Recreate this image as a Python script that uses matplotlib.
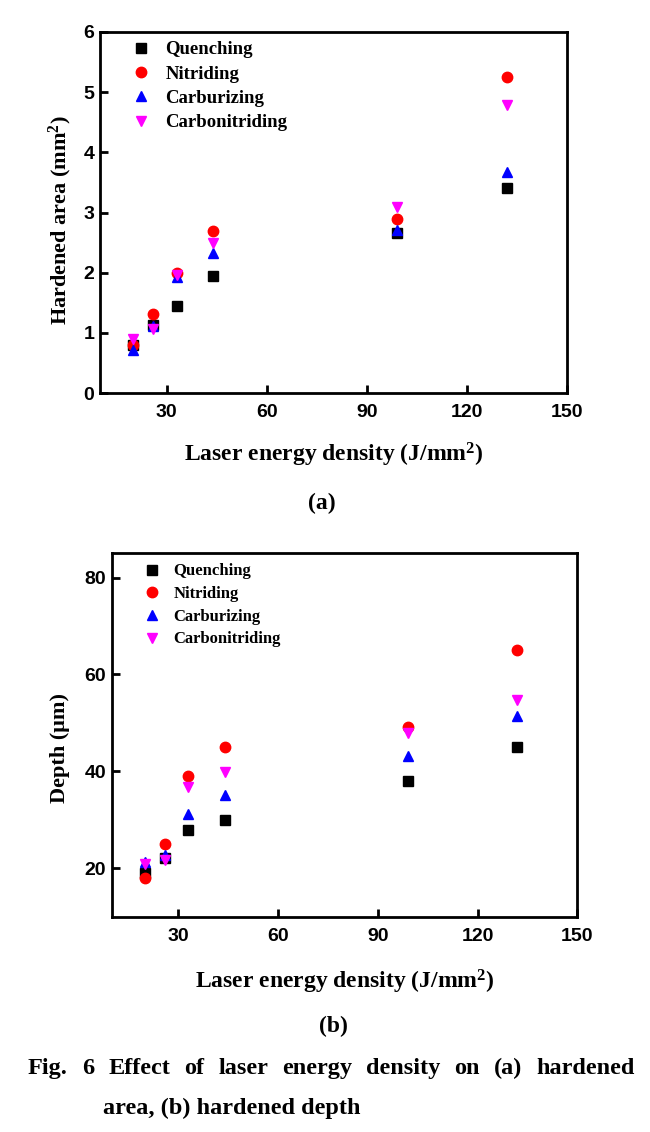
import numpy as np
import matplotlib.pyplot as plt

plt.rcParams['font.family'] = 'Liberation Serif'
plt.rcParams['font.weight'] = 'bold'
plt.rcParams['mathtext.default'] = 'regular'

# laser energy density (J/mm2)
energy = [20, 26, 33, 44, 99, 132]

# hardened area (mm2)
area_quench = [0.80, 1.13, 1.45, 1.95, 2.66, 3.40]
area_nitr = [0.80, 1.32, 2.00, 2.70, 2.89, 5.26]
area_carb = [0.71, 1.11, 1.92, 2.32, 2.71, 3.67]
area_cn = [0.89, 1.07, 1.96, 2.50, 3.09, 4.79]

# hardened depth (um)
depth_quench = [19.1, 22.1, 27.9, 29.9, 38.1, 45.0]
depth_nitr = [17.9, 25.0, 39.0, 45.0, 49.1, 65.0]
depth_carb = [21.2, 22.8, 31.2, 35.2, 43.2, 51.4]
depth_cn = [20.9, 21.7, 36.8, 39.8, 47.9, 54.7]

names = ['Quenching', 'Nitriding', 'Carburizing', 'Carbonitriding']
markers = ['s', 'o', '^', 'v']
colors = ['black', 'red', 'blue', 'magenta']

W, H = 650, 1132
fig = plt.figure(figsize=(W/100, H/100), dpi=100)

ax1 = fig.add_axes([100/W, 1-393/H, 467/W, 361/H])
ax2 = fig.add_axes([111.7/W, 1-916.7/H, 465.6/W, 363.4/H])


def style(ax, ylab, yticks, ylim, leg_size, leg_top, leg_sp):
    ax.set_xlim(10, 150)
    ax.set_ylim(*ylim)
    ax.set_xticks([30, 60, 90, 120, 150])
    ax.set_yticks(yticks)
    ax.tick_params(direction='in', length=6, width=2, labelsize=14,
                   top=False, right=False)
    ax.tick_params(axis='x', pad=8)
    ax.tick_params(axis='y', pad=4)
    for s in ax.spines.values():
        s.set_linewidth(2)
    for lab in ax.get_xticklabels() + ax.get_yticklabels():
        lab.set_fontfamily('Liberation Sans')
        lab.set_fontweight('bold')
    ax.set_xlabel('Laser energy density (J/mm$^2$)', fontsize=17, fontweight='bold')
    ax.set_ylabel(ylab, fontsize=16, fontweight='bold')
    leg = ax.legend(loc='upper left', bbox_to_anchor=(0.068, leg_top),
                    frameon=False, numpoints=1, handlelength=1.0,
                    handletextpad=0.8, borderaxespad=0, borderpad=0,
                    labelspacing=leg_sp, prop={'size': leg_size, 'weight': 'bold'})
    return leg


series_a = [area_quench, area_nitr, area_carb, area_cn]
series_b = [depth_quench, depth_nitr, depth_carb, depth_cn]
for i in range(4):
    ax1.plot(energy, series_a[i], linestyle='none', marker=markers[i],
             color=colors[i], markersize=7.5, label=names[i])
    ax2.plot(energy, series_b[i], linestyle='none', marker=markers[i],
             color=colors[i], markersize=7.5, label=names[i])

style(ax1, 'Hardened area (mm$^2$)', [0, 1, 2, 3, 4, 5, 6], (0, 6), 13.5, 0.975, 0.39)
style(ax2, 'Depth (\u03bcm)', [20, 40, 60, 80], (10, 85), 12, 0.972, 0.40)

ax1.xaxis.set_label_coords(0.5, -0.172)
ax1.xaxis.label.set_verticalalignment('center')
ax2.xaxis.set_label_coords(0.5, -0.18)
ax2.xaxis.label.set_verticalalignment('center')
ax1.yaxis.set_label_coords((60-100)/467, 0.479)
ax1.yaxis.label.set_verticalalignment('center')
ax2.yaxis.set_label_coords((60-111.7)/465.6, 0.465)
ax2.yaxis.label.set_verticalalignment('center')

fig.text(322/W, 1-503/H, '(a)', fontsize=17, fontweight='bold', ha='center', va='center')
fig.text(333/W, 1-1026/H, '(b)', fontsize=17, fontweight='bold', ha='center', va='center')

# caption, first line justified
line1 = 'Fig. 6 Effect of laser energy density on (a) hardened'
fs = 17.5
words = line1.split()
texts = [fig.text(0, 1-1074/H, w, fontsize=fs, fontweight='bold', va='baseline') for w in words]
fig.canvas.draw()
r = fig.canvas.get_renderer()
widths = [t.get_window_extent(r).width for t in texts]
left, right = 28, 635
gap = (right - left - sum(widths)) / (len(words) - 1)
x = left
for t, w in zip(texts, widths):
    t.set_x(x / W)
    x += w + gap
fig.text(103/W, 1-1114/H, 'area, (b) hardened depth', fontsize=fs,
         fontweight='bold', va='baseline')

fig.savefig('out.png', dpi=100)
